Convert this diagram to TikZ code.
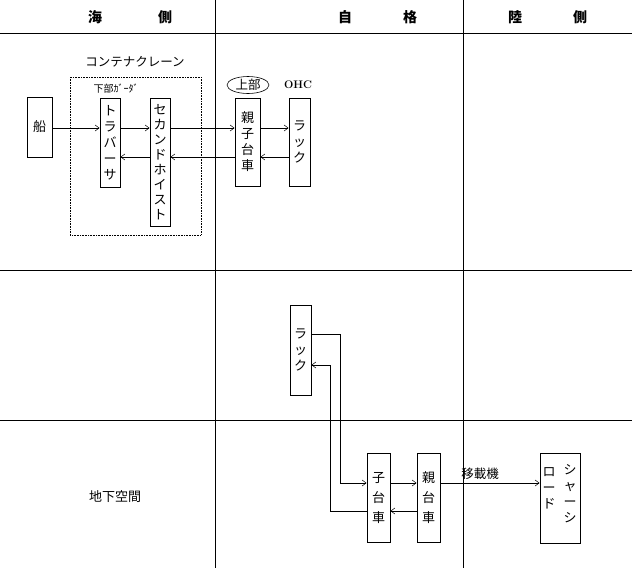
\documentclass[tikz,border=0pt]{standalone}
\usepackage{fontspec}
\newfontfamily\jp{Noto Sans CJK JP}
\usetikzlibrary{arrows.meta,shapes.geometric}
\begin{document}
\begin{tikzpicture}[x=1pt,y=-1pt,font=\jp\fontsize{12.5}{14}\selectfont,
  bx/.style={draw,line width=0.9pt,inner sep=0pt,align=center,font=\jp\fontsize{13}{16}\selectfont},
  ar/.style={-{Straight Barb[length=4pt,width=6pt]},line width=0.5pt},
  hd/.style={font=\jp\bfseries\fontsize{14}{16}\selectfont},
  grid/.style={line width=0.8pt}]
\useasboundingbox (0,0) rectangle (632,579);
% grid
\draw[grid] (0,33) -- (632,33);
\draw[grid] (0,270) -- (632,270);
\draw[grid] (0,420) -- (632,420);
\draw[grid] (215,0) -- (215,568);
\draw[grid] (463,0) -- (463,568);
\node[hd] (h1) at (95,17) {海}; \node[hd] (h2) at (165,17) {側};
\node[hd] (h3) at (345,17) {自}; \node[hd] (h4) at (410,17) {格};
\node[hd] (h5) at (515,17) {陸}; \node[hd] (h6) at (580,17) {側};
% crane
\draw[densely dotted,line width=0.6pt] (70,77) rectangle (201,235);
\node (crane) at (135,62) {コンテナクレーン};
\node[font=\jp\fontsize{10}{11}\selectfont] (under) at (116,89) {下部ｶﾞｰﾀﾞ};
\node[bx,minimum width=25pt,minimum height=60pt] (fune) at (39.5,127) {船};
\node[bx,minimum width=20pt,minimum height=89pt] (trav) at (110,142.5) {ト\\ラ\\バ\\ー\\サ};
\node[bx,minimum width=20pt,minimum height=128pt,font=\jp\fontsize{13}{15}\selectfont] (hoist) at (160,162) {セ\\カ\\ン\\ド\\ホ\\イ\\ス\\ト};
\node[bx,minimum width=25pt,minimum height=88pt] (oyako) at (247.5,142) {親\\子\\台\\車};
\node[bx,minimum width=21pt,minimum height=88pt] (rack1) at (299.5,142) {ラ\\ッ\\ク};
\node[draw,ellipse,line width=0.6pt,minimum width=42pt,minimum height=17pt,inner sep=0pt] (joubu) at (248,85) {上部};
\node[font=\bfseries\fontsize{11}{12}\selectfont] (ohc) at (298,85) {OHC};
\draw[ar] (fune.east |- 0,128) -- (trav.west |- 0,128);
\draw[ar] (trav.east |- 0,128) -- (hoist.west |- 0,128);
\draw[ar] (hoist.east |- 0,128) -- (oyako.west |- 0,128);
\draw[ar] (oyako.east |- 0,128) -- (rack1.west |- 0,128);
\draw[ar] (rack1.west |- 0,157) -- (oyako.east |- 0,157);
\draw[ar] (oyako.west |- 0,157) -- (hoist.east |- 0,157);
\draw[ar] (hoist.west |- 0,157) -- (trav.east |- 0,157);
% lower
\node[bx,minimum width=21pt,minimum height=90pt] (rack2) at (300.5,350) {ラ\\ッ\\ク};
\node[bx,minimum width=23pt,minimum height=89pt,font=\jp\fontsize{13}{20}\selectfont] (ko) at (378.5,497.5) {子\\台\\車};
\node[bx,minimum width=23pt,minimum height=89pt,font=\jp\fontsize{13}{20}\selectfont] (oya) at (428.5,497.5) {親\\台\\車};
\node[bx,minimum width=40pt,minimum height=90pt] (chassis) at (560,498) {};
\node[align=center,font=\jp\fontsize{13}{16}\selectfont] (c1) at (570,494) {シ\\ャ\\ー\\シ};
\node[align=center,font=\jp\fontsize{13}{16}\selectfont] (c2) at (549,488) {ロ\\ー\\ド};
\draw[ar] (rack2.east |- 0,334) -| (340,483) -- (ko.west |- 0,483);
\draw[ar] (ko.west |- 0,511) -| (330,365) -- (rack2.east |- 0,365);
\draw[ar] (ko.east |- 0,483) -- (oya.west |- 0,483);
\draw[ar] (oya.west |- 0,511) -- (ko.east |- 0,511);
\draw[ar] (oya.east |- 0,483) -- node[above,pos=0.4] {移載機} (chassis.west |- 0,483);
\node[font=\jp\fontsize{13}{15}\selectfont] (chika) at (115,497) {地下空間};
\end{tikzpicture}
\end{document}
